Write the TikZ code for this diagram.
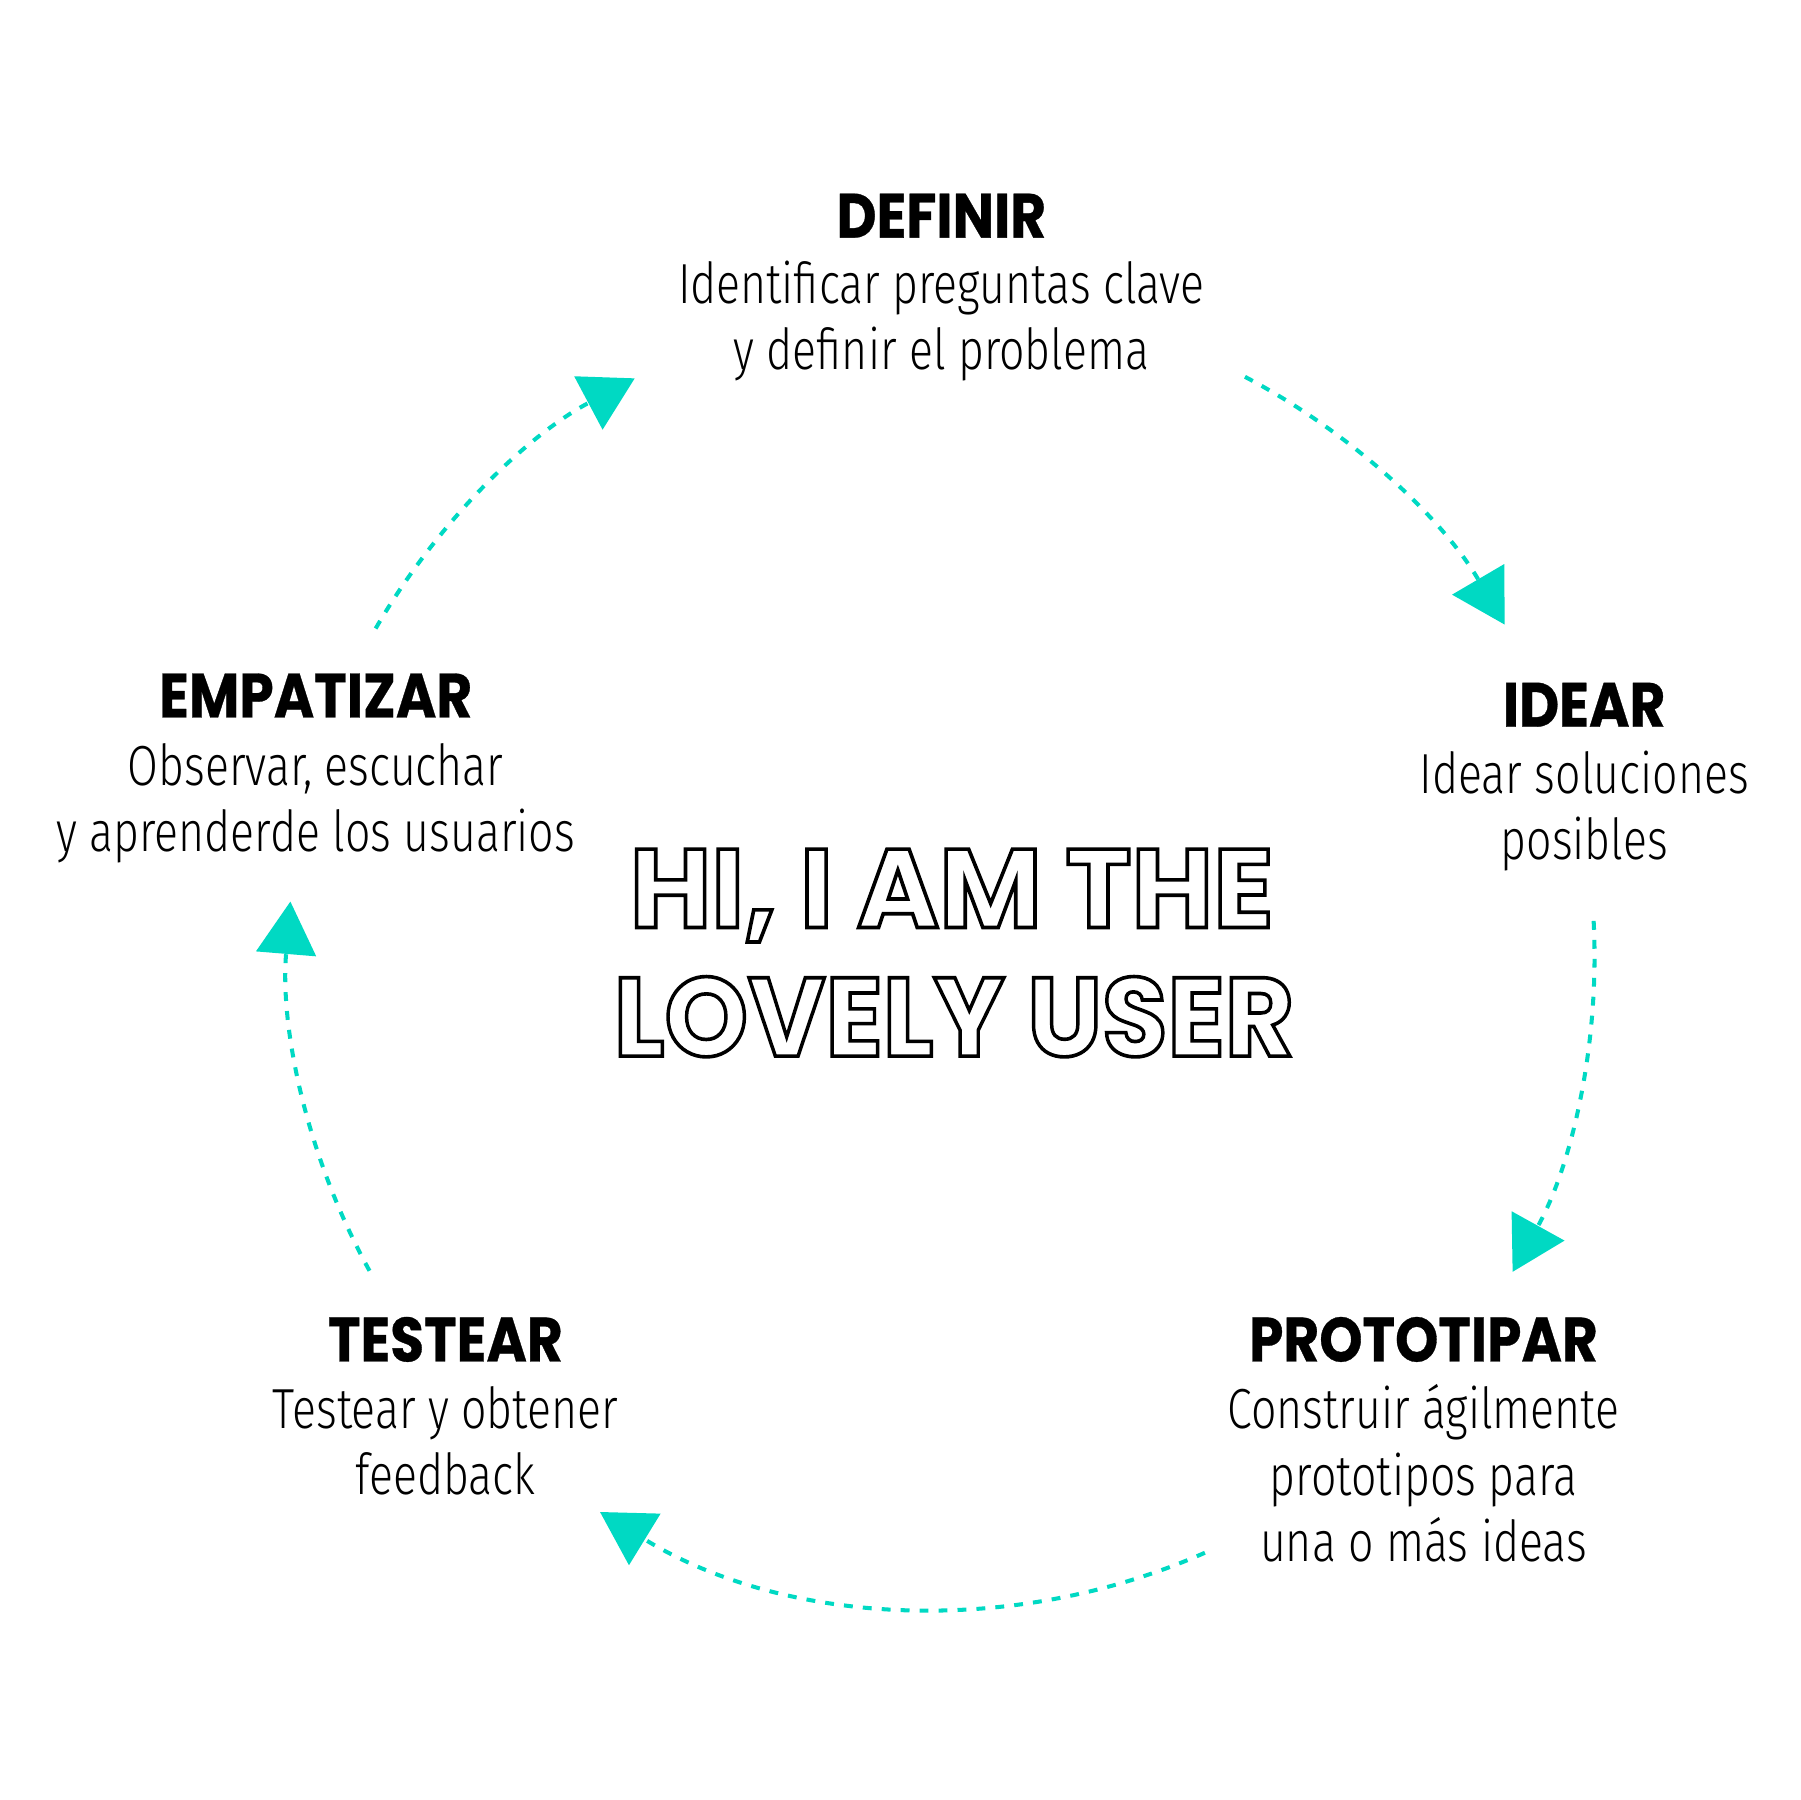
\documentclass[tikz,border=0pt]{standalone}
\usepackage{fontspec}
\setmainfont{Fira Sans}
\newfontfamily\headfont{Poppins}[FakeStretch=0.88, FakeBold=0.5]
\newfontfamily\bigfont{Poppins}
\newfontfamily\bodyfont{Fira Sans Light}[FakeStretch=0.79]
\usetikzlibrary{arrows.meta,positioning}
\definecolor{cycle}{RGB}{0,217,195}
\newcommand{\outlinetext}[1]{\special{pdf:literal direct 1 Tr 0.9 w}#1\special{pdf:literal direct 0 Tr}}

\begin{document}
\begin{tikzpicture}[x=1cm, y=1cm,
  stagetitle/.style={font=\headfont\bfseries\fontsize{15.5}{16}\selectfont, anchor=base, inner sep=0pt},
  stagetext/.style={font=\bodyfont\fontsize{14}{16.4}\selectfont, align=center, anchor=base, inner sep=0pt},
  bigtext/.style={font=\bigfont\bfseries\fontsize{27.7}{28}\selectfont, anchor=base, inner sep=0pt},
  cycarrow/.style={cycle, line width=1pt, dash pattern=on 2.2pt off 2.5pt,
    -{Triangle[width=15pt, length=13pt, line width=0pt]}}]
  \useasboundingbox (0,0) rectangle (15.68,-15.68);
  % ================================================================== centre
  \node[bigtext] (user1) at (8.29,-8.08) {\outlinetext{HI, I AM THE}};
  \node[bigtext] (user2) at (8.31,-9.20) {\outlinetext{\scalebox{0.95}[1]{LOVELY USER}}};
  % ================================================================== cycle
  \coordinate (ctr) at (8.20,-8.32);
  \foreach \a/\b in {150/118, 62.3/30.4, 3/-29, -66.2/-121.5, 208.9/175.3}
    \draw[cycarrow] ([shift={(\a:5.69)}]ctr) arc[start angle=\a, end angle=\b, radius=5.69];
  % ================================================================== stages (text anchored at last line)
  \node[stagetitle] (definir) at (8.20,-2.07) {DEFINIR};
  \node[stagetext] (definirtxt) at (8.20,-3.22) {Identificar preguntas clave\\ y definir el problema};
  \node[stagetitle] (idear) at (13.80,-6.33) {IDEAR};
  \node[stagetext] (ideartxt) at (13.80,-7.49) {Idear soluciones\\ posibles};
  \node[stagetitle] (prototipar) at (12.40,-11.86) {PROTOTIPAR};
  \node[stagetext] (prototipartxt) at (12.40,-13.60) {Construir ágilmente\\ prototipos para\\ una o más ideas};
  \node[stagetitle] (testear) at (3.88,-11.86) {TESTEAR};
  \node[stagetext] (testeartxt) at (3.88,-13.02) {Testear y obtener\\ feedback};
  \node[stagetitle] (empatizar) at (2.75,-6.25) {EMPATIZAR};
  \node[stagetext] (empatizartxt) at (2.75,-7.42) {Observar, escuchar\\ y aprenderde los usuarios};
\end{tikzpicture}
\end{document}
